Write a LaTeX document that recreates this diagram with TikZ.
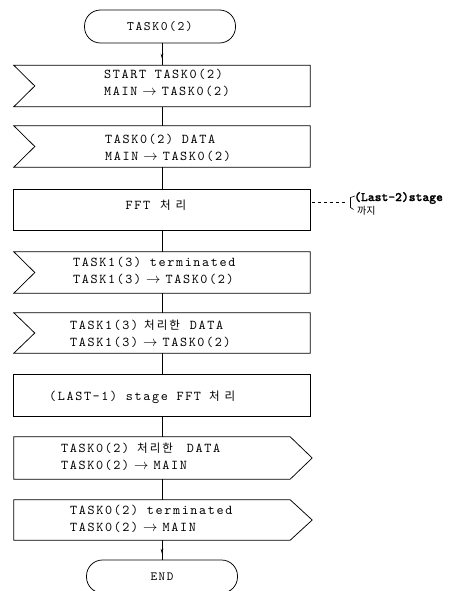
\documentclass[tikz,border=0pt]{standalone}
\usepackage{fontspec}
\usetikzlibrary{calc,arrows.meta,decorations.markings}
\newfontfamily\tw{lmmono10-regular}[Extension=.otf, LetterSpace=12]
\newfontfamily\twb{lmmonolt10-bold}[Extension=.otf, FakeBold=1.2]
\newfontfamily\kr{Noto Sans CJK KR}
\newcommand\rar{\hspace{5pt}$\rightarrow$\hspace{5pt}}
\newcommand\krt[1]{{\kr\fontsize{11.5}{14}\selectfont #1}}
\tikzset{
  outl/.style={line width=0.75pt, line join=miter},
  boxnode/.style={rectangle, minimum width=296pt, minimum height=41pt, inner sep=0pt},
  sendnode/.style={rectangle, minimum width=298pt, minimum height=42pt, inner sep=0pt},
  term/.style={rectangle, rounded corners=16pt, draw, line width=0.75pt, minimum width=151pt, minimum height=33pt, inner sep=0pt},
  txt/.style={font=\tw\fontsize{13.5}{17}\selectfont, align=left, inner sep=0pt, anchor=west},
  conn/.style={line width=0.75pt},
  arrmid/.style={postaction={decorate}, decoration={markings, mark=at position 0.7 with {\arrow{Stealth[length=5pt,width=2.6pt]}}}}
}
\begin{document}
\begin{tikzpicture}[x=1pt,y=-1pt]
\clip (0,0) rectangle (463,591);
% terminals
\node[term, font=\tw\fontsize{13}{14}\selectfont] (t1) at (160,26.5) {TASK0(2)};
\node[term, font=\tw\fontsize{12.5}{14}\selectfont] (te) at (162,576.5) {END};
% boxes
\node[boxnode] (b1) at (162,86) {};
\node[boxnode] (b2) at (162,146.5) {};
\node[boxnode, minimum height=40pt] (fft) at (162,210) {};
\node[boxnode] (b4) at (162,272.5) {};
\node[boxnode, minimum height=40pt] (b5) at (162,333) {};
\node[boxnode] (b6) at (162,395.5) {};
\node[sendnode] (b7) at (163,458) {};
\node[sendnode, minimum height=40pt] (b8) at (163,520) {};
% receive shapes
\foreach \b in {b1,b2,b4,b5}{
  \draw[outl] (\b.north west) -- (\b.north east) -- (\b.south east) -- (\b.south west) -- ($(\b.west)+(21,0)$) -- cycle;
}
\draw[outl] (fft.north west) rectangle (fft.south east);
\draw[outl] (b6.north west) rectangle (b6.south east);
\foreach \b in {b7,b8}{
  \draw[outl] (\b.north west) -- ($(\b.north east)+(-22,0)$) -- (\b.east) -- ($(\b.south east)+(-22,0)$) -- (\b.south west) -- cycle;
}
% texts
\node[txt] (l1) at (104,83) {START TASK0(2)\\MAIN\rar TASK0(2)};
\node[txt] (l2) at (105,147.5) {TASK0(2) DATA\\MAIN\rar TASK0(2)};
\node[txt, anchor=center] (l3) at (156,205) {FFT\hspace{10pt}\krt{처\hspace{5pt}리}};
\node[txt] (l4) at (73,270.5) {TASK1(3) terminated\\TASK1(3)\rar TASK0(2)};
\node[txt] (l5) at (70,334) {TASK1(3)\hspace{6pt}\krt{처\hspace{2pt}리\hspace{2pt}한}\hspace{10pt}DATA\\TASK1(3)\rar TASK0(2)};
\node[txt] (l6) at (49,397) {(LAST-1) stage FFT\hspace{8pt}\krt{처\hspace{5pt}리}};
\node[txt] (l7) at (61,456.5) {TASK0(2)\hspace{8pt}\krt{처\hspace{2pt}리\hspace{2pt}한}\hspace{14pt}DATA\\TASK0(2)\rar MAIN};
\node[txt] (l8) at (70,519) {TASK0(2) terminated\\TASK0(2)\rar MAIN};
% connectors
\draw[conn, arrmid] (t1.south -| b1.north) -- (b1.north);
\draw[conn] (b1.south) -- (b2.north);
\draw[conn] (b2.south) -- (fft.north);
\draw[conn] (fft.south) -- (b4.north);
\draw[conn] (b4.south) -- (b5.north);
\draw[conn] (b5.south) -- (b6.north);
\draw[conn] (b6.south) -- (b6.south |- b7.north);
\draw[conn] (b7.south -| b6.south) -- (b6.south |- b8.north);
\draw[conn, arrmid] (b8.south -| b6.south) -- (b6.south |- te.north);
% annotation
\coordinate (d0) at (312,202);
\coordinate (d1) at (346,202);
\draw[conn, dash pattern=on 3pt off 3pt] (d0) -- (d1);
\draw[line width=0.6pt] (355,196) -- (350.5,197.5) -- (350.5,207.5) -- (353.5,209.5);
\node[font=\twb\fontsize{13}{14}\selectfont, anchor=west, inner sep=0pt] (n1) at (354,198) {(Last-2)stage};
\node[font=\kr\fontsize{10}{11}\selectfont, anchor=west, inner sep=0pt] (n2) at (357,211) {까지};
\end{tikzpicture}
\end{document}
